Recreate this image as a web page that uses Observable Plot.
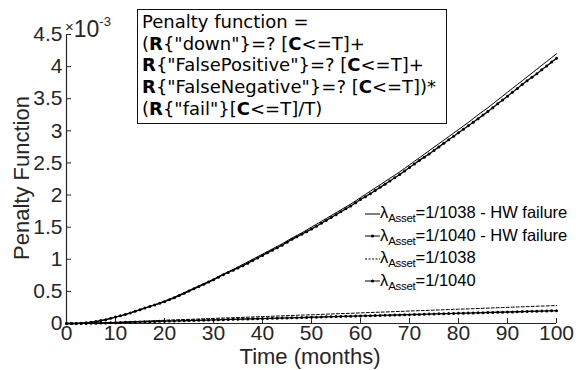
<!DOCTYPE html>
<html><head><meta charset="utf-8">
<script src="https://cdn.jsdelivr.net/npm/d3@7"></script>
<script src="https://cdn.jsdelivr.net/npm/@observablehq/plot@0.6"></script>
<style>
body{margin:0;background:#fff;}
#wrap{position:relative;width:578px;height:370px;font-family:"Liberation Sans",Arial,sans-serif;color:#262626;}
.ov{position:absolute;white-space:nowrap;}
#box{position:absolute;left:137px;top:9px;width:310px;height:115px;border:1.5px solid #111;background:#fff;font-family:"DejaVu Sans",sans-serif;font-size:18px;color:#000;line-height:21.7px;padding:1px 0 0 4px;box-sizing:border-box;}
#legend{position:absolute;left:365px;top:201px;font-size:16.5px;color:#000;line-height:22.6px;}
#legend sub{font-size:11.5px;vertical-align:-4px;line-height:0;letter-spacing:-0.3px;}
#legend svg{vertical-align:middle;}
</style></head>
<body><div id="wrap"></div>
<script>
const months = [0,1,2,3,4,5,6,7,8,9,10,11,12,13,14,15,16,17,18,19,20,21,22,23,24,25,26,27,28,29,30,31,32,33,34,35,36,37,38,39,40,41,42,43,44,45,46,47,48,49,50,51,52,53,54,55,56,57,58,59,60,61,62,63,64,65,66,67,68,69,70,71,72,73,74,75,76,77,78,79,80,81,82,83,84,85,86,87,88,89,90,91,92,93,94,95,96,97,98,99,100];
// values in units of 1e-3
const hw1038 = [0,0,0,0.005,0.01,0.02,0.03,0.045,0.06,0.08,0.10,
 0.12,0.14,0.165,0.19,0.215,0.24,0.265,0.29,0.32,0.35,
 0.38,0.41,0.445,0.48,0.515,0.55,0.585,0.62,0.655,0.69,
 0.73,0.77,0.805,0.84,0.88,0.92,0.96,1.00,1.04,1.08,
 1.12,1.16,1.20,1.24,1.285,1.33,1.37,1.41,1.455,1.50,
 1.545,1.59,1.635,1.68,1.725,1.77,1.815,1.86,1.91,1.96,
 2.01,2.06,2.11,2.16,2.21,2.26,2.31,2.36,2.415,2.47,
 2.525,2.58,2.635,2.69,2.745,2.80,2.855,2.91,2.965,3.02,
 3.075,3.13,3.19,3.25,3.305,3.36,3.42,3.48,3.54,3.60,
 3.66,3.72,3.78,3.84,3.90,3.96,4.02,4.08,4.14,4.20];
const hw1040 = [0,0,0,0.005,0.01,0.02,0.03,0.045,0.06,0.08,0.10,
 0.12,0.14,0.165,0.19,0.215,0.24,0.265,0.29,0.315,0.34,
 0.37,0.40,0.435,0.47,0.505,0.54,0.575,0.61,0.645,0.68,
 0.72,0.76,0.795,0.83,0.865,0.90,0.94,0.98,1.02,1.06,
 1.10,1.14,1.18,1.22,1.265,1.31,1.35,1.39,1.43,1.47,
 1.515,1.56,1.605,1.65,1.695,1.74,1.785,1.83,1.88,1.93,
 1.975,2.02,2.07,2.12,2.17,2.22,2.27,2.32,2.375,2.43,
 2.485,2.54,2.59,2.64,2.695,2.75,2.805,2.86,2.915,2.97,
 3.025,3.08,3.135,3.19,3.245,3.30,3.36,3.42,3.48,3.54,
 3.60,3.66,3.72,3.78,3.835,3.89,3.95,4.01,4.07,4.13];
const base1038 = [0,0,0,0.001,0.002,0.004,0.006,0.009,0.012,0.015,0.018,
 0.021,0.025,0.028,0.031,0.034,0.037,0.041,0.044,0.047,0.050,
 0.053,0.056,0.059,0.062,0.064,0.067,0.070,0.073,0.076,0.079,
 0.082,0.085,0.087,0.090,0.093,0.096,0.099,0.102,0.105,0.108,
 0.110,0.113,0.116,0.119,0.122,0.125,0.128,0.131,0.133,0.136,
 0.139,0.142,0.145,0.148,0.151,0.154,0.156,0.159,0.162,0.165,
 0.168,0.171,0.174,0.177,0.179,0.182,0.185,0.188,0.191,0.194,
 0.197,0.200,0.202,0.205,0.208,0.211,0.214,0.217,0.220,0.223,
 0.225,0.228,0.231,0.234,0.237,0.240,0.243,0.246,0.248,0.251,
 0.254,0.257,0.260,0.263,0.266,0.269,0.271,0.274,0.277,0.280];
const base1040 = [0,0,0,0.001,0.001,0.002,0.004,0.006,0.008,0.010,0.013,
 0.015,0.018,0.020,0.022,0.025,0.027,0.029,0.031,0.034,0.036,
 0.038,0.040,0.042,0.044,0.046,0.048,0.050,0.052,0.054,0.056,
 0.058,0.060,0.063,0.065,0.067,0.069,0.071,0.073,0.075,0.077,
 0.079,0.081,0.083,0.085,0.087,0.089,0.091,0.093,0.095,0.097,
 0.099,0.101,0.104,0.106,0.108,0.110,0.112,0.114,0.116,0.118,
 0.120,0.122,0.124,0.126,0.128,0.130,0.132,0.134,0.136,0.138,
 0.140,0.142,0.145,0.147,0.149,0.151,0.153,0.155,0.157,0.159,
 0.161,0.163,0.165,0.167,0.169,0.171,0.173,0.175,0.177,0.179,
 0.181,0.183,0.186,0.188,0.190,0.192,0.194,0.196,0.198,0.200];
const xTicks = [0,10,20,30,40,50,60,70,80,90,100];
const yTicks = [0,0.5,1,1.5,2,2.5,3,3.5,4,4.5];
const seriesNames = ["=1/1038 - HW failure","=1/1040 - HW failure","=1/1038","=1/1040"];

const mk = (arr) => months.map((m,i)=>({x:m,y:arr[i]}));
const axisColor = "#262626";

const chart = Plot.plot({
  width: 578, height: 370,
  marginLeft: 66, marginRight: 22, marginTop: 34, marginBottom: 47,
  style:{fontFamily:'"Liberation Sans",Arial,sans-serif', fontSize:"21px", color:axisColor, background:"#fff"},
  x:{domain:[0,100], label:null},
  y:{domain:[0,4.5], label:null},
  marks:[
    Plot.axisX({ticks:xTicks, tickSize:-5, tickPadding:7, stroke:axisColor, fill:axisColor, fontSize:21}),
    Plot.axisY({ticks:yTicks, tickSize:-5, tickPadding:9, stroke:axisColor, fill:axisColor, fontSize:21, tickFormat:d=>String(d)}),
    Plot.ruleX([0],{stroke:axisColor, strokeWidth:1.2}),
    Plot.ruleY([0],{stroke:axisColor, strokeWidth:1.2}),
    Plot.line(mk(base1038),{x:"x",y:"y",stroke:"#000",strokeWidth:1,strokeDasharray:"3,2"}),
    Plot.line(mk(base1040),{x:"x",y:"y",stroke:"#000",strokeWidth:1.3}),
    Plot.dot(mk(base1040),{x:"x",y:"y",r:1.5,fill:"#000",stroke:"none"}),
    Plot.line(mk(hw1038),{x:"x",y:"y",stroke:"#000",strokeWidth:1}),
    Plot.line(mk(hw1040),{x:"x",y:"y",stroke:"#000",strokeWidth:1.3}),
    Plot.dot(mk(hw1040),{x:"x",y:"y",r:1.5,fill:"#000",stroke:"none"})
  ]
});
const wrap = document.getElementById("wrap");
wrap.appendChild(chart);

function ov(html, style){const d=document.createElement("div");d.className="ov";d.innerHTML=html;Object.assign(d.style,style);wrap.appendChild(d);return d;}
ov('<span style="font-size:15px;vertical-align:5px">×</span>10<sup style="font-size:13px;vertical-align:11px;line-height:0">-3</sup>',{left:"65px",top:"14px",fontSize:"23px",lineHeight:"26px"});
ov('Time (months)',{left:"310px",top:"346px",fontSize:"22px",lineHeight:"22px",transform:"translateX(-50%)"});
ov('Penalty Function',{left:"22px",top:"178px",fontSize:"22px",lineHeight:"22px",transform:"translate(-50%,-50%) rotate(-90deg)"});

const box=document.createElement("div");box.id="box";
box.innerHTML='Penalty function =<br>(<b>R</b>{"down"}=? [<b>C</b>&lt;=T]+<br><b>R</b>{"FalsePositive"}=? [<b>C</b>&lt;=T]+<br><b>R</b>{"FalseNegative"}=? [<b>C</b>&lt;=T])*<br>(<b>R</b>{"fail"}[<b>C</b>&lt;=T]/T)';
wrap.appendChild(box);

const sample=(dash,dot)=>`<svg width="15" height="10"><line x1="0" y1="5" x2="15" y2="5" stroke="#000" stroke-width="1" ${dash?'stroke-dasharray="2,1.5"':''}/>${dot?'<circle cx="7.5" cy="5" r="1.6" fill="#000"/>':''}</svg>`;
const leg=document.createElement("div");leg.id="legend";
const styles=[[false,false],[false,true],[true,false],[false,true]];
leg.innerHTML=seriesNames.map((n,i)=>`<div>${sample(styles[i][0],styles[i][1])}λ<sub>Asset</sub>${n}</div>`).join("");
wrap.appendChild(leg);
</script></body></html>
